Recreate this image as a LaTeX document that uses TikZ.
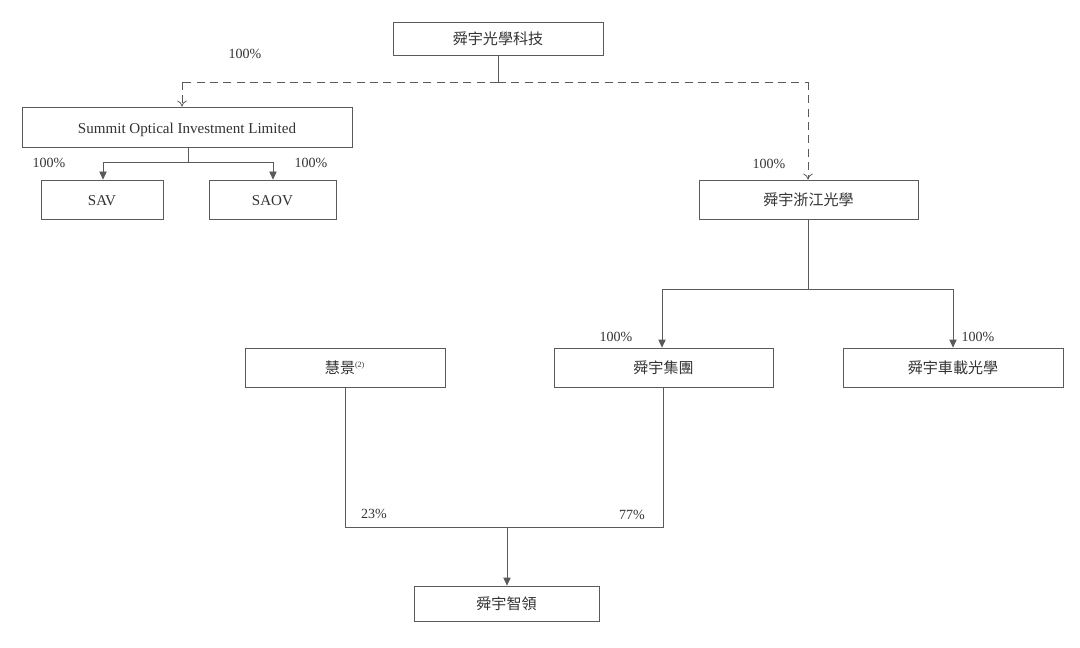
\documentclass[tikz,border=0pt]{standalone}
\usepackage{fontspec}
\setmainfont{Liberation Serif}
\newfontfamily\cjk{Noto Sans CJK TC}
\usetikzlibrary{arrows.meta}
\definecolor{linegray}{HTML}{5A5A5A}
\definecolor{textgray}{HTML}{333333}
\tikzset{
  entity/.style={draw=linegray, line width=0.6pt, inner sep=0pt,
    text=textgray, font=\fontsize{11.3}{13}\selectfont},
  latin/.style={text height=11.5pt, text depth=2pt},
  link/.style={draw=linegray, line width=0.6pt},
  own/.style={link, -{Triangle[length=6pt,width=5.5pt]}},
  owndash/.style={link, dashed, dash pattern=on 6pt off 4pt,
    -{To[length=4.5pt,width=7pt]}},
  pct/.style={text=textgray, font=\fontsize{10.5}{12}\selectfont, inner sep=1pt}
}
\begin{document}
\begin{tikzpicture}[x=0.75pt, y=-0.75pt]
  \useasboundingbox (0,0) rectangle (1080,648);
  % companies
  \node[entity, minimum width=157.5pt, minimum height=24.75pt]
    (tech) at (498,38.5) {\cjk 舜宇光學科技};
  \node[entity, latin, minimum width=247.5pt, minimum height=30pt]
    (summit) at (187,127) {Summit Optical Investment Limited};
  \node[entity, latin, minimum width=91.5pt, minimum height=29.25pt]
    (sav) at (102,199.5) {SAV};
  \node[entity, latin, minimum width=95.25pt, minimum height=29.25pt]
    (saov) at (272.5,199.5) {SAOV};
  \node[entity, minimum width=164.25pt, minimum height=29.25pt]
    (zj) at (808.5,199.5) {\cjk 舜宇浙江光學};
  \node[entity, minimum width=150pt, minimum height=29.25pt]
    (hj) at (345,367.5) {{\cjk 慧景}\textsuperscript{\fontsize{6}{7}\selectfont(2)}};
  \node[entity, minimum width=164.25pt, minimum height=29.25pt]
    (grp) at (663.5,367.5) {\cjk 舜宇集團};
  \node[entity, minimum width=165pt, minimum height=29.25pt]
    (car) at (953,367.5) {\cjk 舜宇車載光學};
  \node[entity, minimum width=138.75pt, minimum height=26.25pt]
    (zl) at (506.5,603.5) {\cjk 舜宇智領};
  % junctions
  \coordinate (j1) at (498,82);
  \coordinate (j2) at (188,162);
  \coordinate (j3) at (808,289);
  \coordinate (j4) at (507,527);
  % connectors
  \draw[link] (tech.south -| j1) -- (j1);
  \draw[link, dashed, dash pattern=on 6pt off 4pt] (j1) -- (j1 -| 182,0);
  \draw[link, dashed, dash pattern=on 6pt off 4pt] (j1) -- (j1 -| 808,0);
  \draw[owndash] (j1 -| 182,0) -- (summit.north -| 182,0);
  \draw[owndash] (j1 -| 808,0) -- (zj.north -| 808,0);
  \draw[link] (summit.south -| j2) -- (j2);
  \draw[own] (j2) -| (sav.north -| 103,0);
  \draw[own] (j2) -| (saov.north -| 273,0);
  \draw[link] (zj.south -| j3) -- (j3);
  \draw[own] (j3) -| (grp.north -| 662,0);
  \draw[own] (j3) -| (car.north -| 953,0);
  \draw[link] (hj.south) |- (j4);
  \draw[link] (grp.south -| 663,0) |- (j4);
  \draw[own] (j4) -- (zl.north -| j4);
  % percentages
  \node[pct] (p1) at (245,54) {100\%};
  \node[pct] (p2) at (49,163) {100\%};
  \node[pct] (p3) at (311,163) {100\%};
  \node[pct] (p4) at (769,164) {100\%};
  \node[pct] (p5) at (616,337) {100\%};
  \node[pct] (p6) at (978,337) {100\%};
  \node[pct] (p7) at (374,514) {23\%};
  \node[pct] (p8) at (632,515) {77\%};
\end{tikzpicture}
\end{document}
